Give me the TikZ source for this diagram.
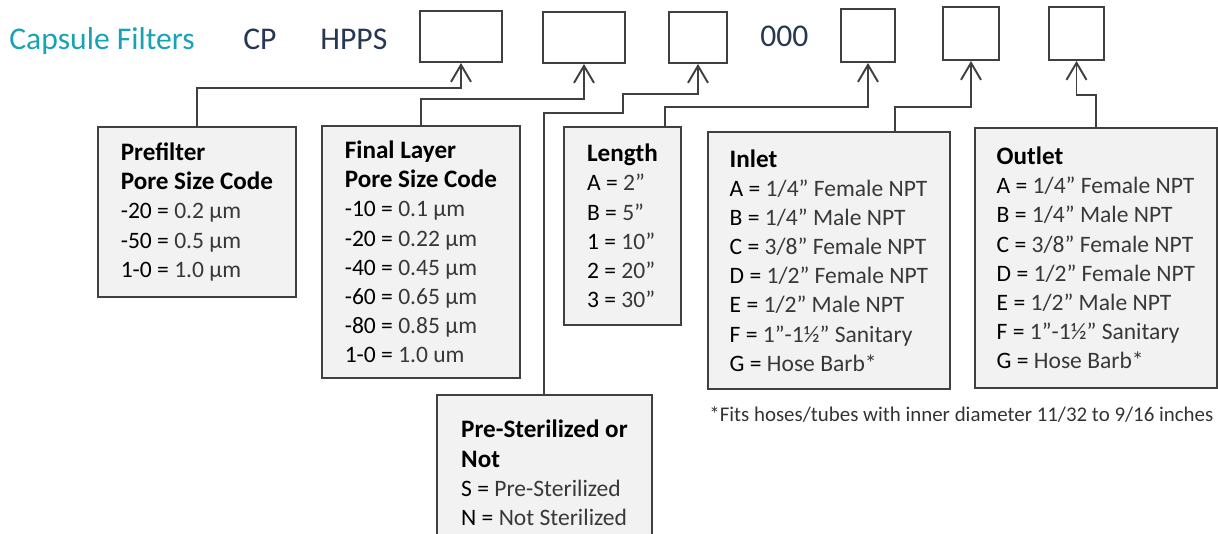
\documentclass[tikz,border=0pt]{standalone}
\usepackage[svgnames]{xcolor}
\usepackage{fontspec}
\setmainfont{Carlito}
\usetikzlibrary{positioning,arrows.meta}
\newcommand{\vt}[1]{\textcolor{black!78}{#1}}
\newcommand{\hd}[1]{{\fontsize{14.3}{16.6}\selectfont\bfseries #1}}
\newcommand{\partcolors}{%
  % color of the title
  \definecolor{colTitle}{RGB}{23,163,181}
  % color of the fixed code letters
  \definecolor{colCode}{RGB}{38,55,83}
  % color of all lines and borders
  \definecolor{colLine}{RGB}{64,64,64}
  % fill color of the option boxes
  \definecolor{colBox}{RGB}{242,242,242}
}
\tikzset{
  slot/.style={draw=colLine, line width=1.1pt, fill=white, inner sep=0pt},
  optbox/.style={draw=colLine, line width=1.1pt, fill=colBox, align=left,
    anchor=north west, inner xsep=2pt, inner ysep=0pt,
    font=\fontsize{13.4}{16.6}\selectfont},
  link/.style={draw=colLine, line width=1.1pt,
    -{Straight Barb[length=3.4mm,width=4mm]}},
  titletext/.style={anchor=base west, inner sep=0pt,
    font=\fontsize{18}{22}\selectfont}
}
\begin{document}
\begin{tikzpicture}[x=0.02cm, y=-0.02cm]

  % define colors
  \partcolors
  \useasboundingbox (0,0) rectangle (1218,534);
  \clip (0,0) rectangle (1218,534);

  % part number line
  \node[titletext, text=colTitle] (title) at (9,50) {Capsule Filters};
  \node[titletext, text=colCode] (cp) at (243,50) {CP};
  \node[titletext, text=colCode] (hpps) at (320,50) {HPPS};
  \node[titletext, text=colCode] (zeros) at (760,47) {000};

  % empty code slots
  \node[slot, minimum width=1.64cm, minimum height=1.02cm] (pfslot) at (461,36.5) {};
  \node[slot, minimum width=1.64cm, minimum height=1.02cm] (flslot) at (584,37.5) {};
  \node[slot, minimum width=1.16cm, minimum height=1.02cm] (stslot) at (698,37.5) {};
  \node[slot, minimum width=1.08cm, minimum height=1.06cm] (lenslot) at (868,35.5) {};
  \node[slot, minimum width=1.12cm, minimum height=1.06cm] (inslot) at (971,33.5) {};
  \node[slot, minimum width=1.10cm, minimum height=1.06cm] (outslot) at (1076.5,33.5) {};

  % option boxes
  \node[optbox, minimum width=3.96cm, minimum height=3.40cm] (pf) at (97,126)
    {\hd{Prefilter}\\ \hd{Pore Size Code}\\
     -20 = \vt{0.2 µm}\\ -50 = \vt{0.5 µm}\\ 1-0 = \vt{1.0 µm}};
  \node[optbox, minimum width=3.96cm, minimum height=5.04cm] (fl) at (321,125)
    {\hd{Final Layer}\\ \hd{Pore Size Code}\\
     -10 = \vt{0.1 µm}\\ -20 = \vt{0.22 µm}\\ -40 = \vt{0.45 µm}\\
     -60 = \vt{0.65 µm}\\ -80 = \vt{0.85 µm}\\ 1-0 = \vt{1.0 um}};
  \node[optbox, minimum width=2.34cm, minimum height=3.96cm] (len) at (563,126)
    {\hd{Length}\\ A = \vt{2”}\\ B = \vt{5”}\\ 1 = \vt{10”}\\
     2 = \vt{20”}\\ 3 = \vt{30”}};
  \node[optbox, minimum width=4.84cm, minimum height=5.14cm] (inl) at (707,131)
    {\hd{Inlet}\\ A = \vt{1/4” Female NPT}\\ B = \vt{1/4” Male NPT}\\
     C = \vt{3/8” Female NPT}\\ D = \vt{1/2” Female NPT}\\
     E = \vt{1/2” Male NPT}\\ F = \vt{1”-1½” Sanitary}\\ G = \vt{Hose Barb*}};
  \node[optbox, minimum width=4.84cm, minimum height=5.20cm] (outl) at (974,127)
    {\hd{Outlet}\\ A = \vt{1/4” Female NPT}\\ B = \vt{1/4” Male NPT}\\
     C = \vt{3/8” Female NPT}\\ D = \vt{1/2” Female NPT}\\
     E = \vt{1/2” Male NPT}\\ F = \vt{1”-1½” Sanitary}\\ G = \vt{Hose Barb*}};
  \node[optbox, minimum width=4.30cm, minimum height=3.12cm] (ps) at (436,394)
    {\hd{Pre-Sterilized or}\\ \hd{Not}\\
     S = \vt{Pre-Sterilized}\\ N = \vt{Not Sterilized}};

  % footnote
  \node[anchor=base west, inner sep=0pt, font=\fontsize{11.9}{14}\selectfont,
    text=black!80] (note) at (709,421)
    {*Fits hoses/tubes with inner diameter 11/32 to 9/16 inches};

  % connect boxes to slots
  \draw[link] (pf.north) -- ++(0,-38) -| (pfslot.south);
  \draw[link] (fl.north) -- ++(0,-26) -| (flslot.south);
  \draw[link] (ps.north) -- ++(0,-281) -| ++(79,-19) -| (stslot.south);
  \draw[link] ([xshift=-0.34cm]len.north east) -- ++(0,-19) -| (lenslot.south);
  \draw[link] ([xshift=-1.12cm]inl.north east) -- ++(0,-24) -| (inslot.south);
  \draw[link] (outl.north) -- ++(0,-32) -| (outslot.south);

\end{tikzpicture}
\end{document}
